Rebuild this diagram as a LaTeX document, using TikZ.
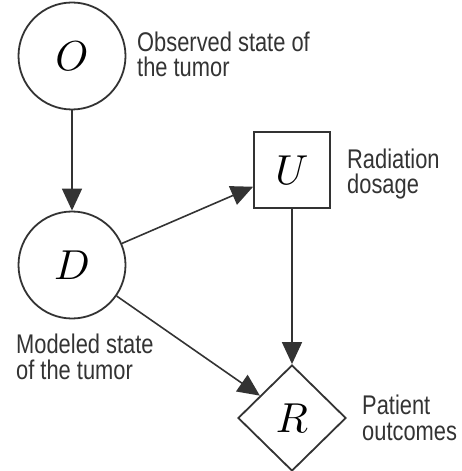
\documentclass[tikz,border=0pt]{standalone}
\usepackage{graphicx}
\usepackage{fontspec}
\usepackage{tikz}
\usetikzlibrary{arrows.meta,shapes.geometric}
\newfontfamily\notefont[FakeStretch=0.81]{Liberation Sans}
\newcommand{\bigvar}[1]{\scalebox{4.2}{$#1$}}
\definecolor{ink}{HTML}{333333}
\begin{document}
\begin{tikzpicture}[x=1bp,y=-1bp,
  chance/.style={circle,draw=ink,line width=1.8bp,minimum size=107bp,inner sep=0pt},
  choice/.style={rectangle,draw=ink,line width=1.8bp,minimum size=76bp,inner sep=0pt},
  utility/.style={diamond,draw=ink,line width=1.8bp,minimum width=108bp,minimum height=106bp,inner sep=0pt},
  note/.style={anchor=base west,align=left,inner sep=0pt,text=ink,font=\notefont\fontsize{27bp}{25.5bp}\selectfont},
  arc/.style={draw=ink,line width=1.6bp,-{Triangle[length=22bp,width=20bp]}}]
\useasboundingbox (0,0) rectangle (462,471);
\node [chance] (O) at (72,56) {\bigvar{O}};
\node [chance] (D) at (72,265) {\bigvar{D}};
\node [choice] (U) at (292,170) {\bigvar{U}};
\node [utility] (R) at (292,418) {\bigvar{R}};
\node [note] (Otext) at (137,77) {Observed state of\\the tumor};
\node [note] (Dtext) at (16,379) {Modeled state\\of the tumor};
\node [note] (Utext) at (347,194) {Radiation\\dosage};
\node [note] (Rtext) at (362,440) {Patient\\outcomes};
\draw [arc] (O) -- (D);
\draw [arc] (D) -- (U);
\draw [arc] (U) -- (R);
\draw [arc] (D) -- (R);
\end{tikzpicture}
\end{document}
